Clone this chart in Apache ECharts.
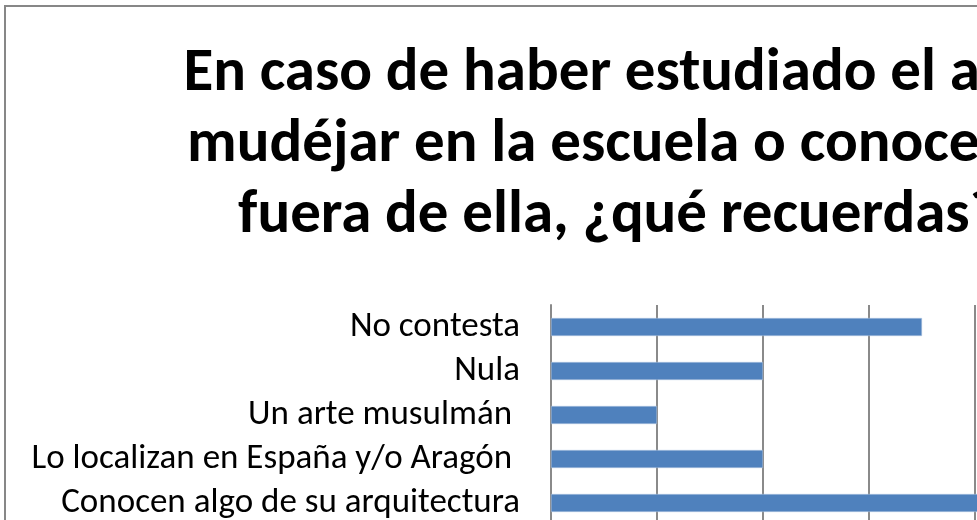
<!DOCTYPE html>
<html>
	<head>
		<meta charset="utf-8">
		<title>Arte mudéjar</title>
		<script src="https://cdn.jsdelivr.net/npm/echarts@6/dist/echarts.min.js"></script>
		<style>
			html, body { margin: 0; padding: 0; overflow: hidden; background: #fff; }
			#mudejarChart { position: absolute; left: 0; top: 0; width: 1236px; height: 700px; }
		</style>
	</head>
	<body>
		<div id="mudejarChart"></div>
		<script>
			// datos del gráfico (de arriba abajo)
			var categorias = ['No contesta', 'Nula', 'Un arte musulmán ', 'Lo localizan en España y/o Aragón ', 'Conocen algo de su arquitectura'];
			var respuestas = [7, 4, 2, 4, 10];
			var ejeMin = 0;
			var ejeMax = 12;
			var ejeIntervalo = 2;
			var titulo = 'En caso de haber estudiado el arte\nmudéjar en la escuela o conocerlo\nfuera de ella, ¿qué recuerdas?';

			var chart = echarts.init(document.getElementById('mudejarChart'), null, { renderer: 'canvas' });
			var fuente = 'Carlito, Lato, sans-serif';

			var option = {
				backgroundColor: '#fff',
				animation: false,
				title: {
					text: titulo,
					left: 'center',
					top: 34,
					textStyle: {
						fontFamily: fuente,
						fontWeight: 'bold',
						fontSize: 61,
						lineHeight: 71,
						color: '#000'
					}
				},
				graphic: [{
					type: 'rect',
					shape: { x: 5, y: 6, width: 1226, height: 690 },
					style: { fill: 'none', stroke: '#878787', lineWidth: 2 },
					silent: true
				}],
				grid: {
					left: 551,
					top: 305,
					width: 636,
					height: 220,
					outerBoundsMode: 'none'
				},
				xAxis: {
					type: 'value',
					min: ejeMin,
					max: ejeMax,
					interval: ejeIntervalo,
					axisLine: { show: false },
					axisTick: { show: false },
					axisLabel: { fontFamily: fuente, fontSize: 35, color: '#000' },
					splitLine: { lineStyle: { color: '#8a8a8a', width: 2 } }
				},
				yAxis: {
					type: 'category',
					inverse: true,
					data: categorias,
					axisLine: { lineStyle: { color: '#8a8a8a', width: 2 } },
					axisTick: { length: 7, lineStyle: { color: '#8a8a8a', width: 2 } },
					axisLabel: {
						interval: 0,
						fontFamily: fuente,
						fontSize: 35,
						color: '#000',
						margin: 31
					}
				},
				series: [{
					type: 'bar',
					data: respuestas,
					barCategoryGap: '59%',
					itemStyle: { color: '#4f81bd', borderColor: '#b9cde5', borderWidth: 0.5 }
				}]
			};
			chart.setOption(option);
		</script>
	</body>
</html>
